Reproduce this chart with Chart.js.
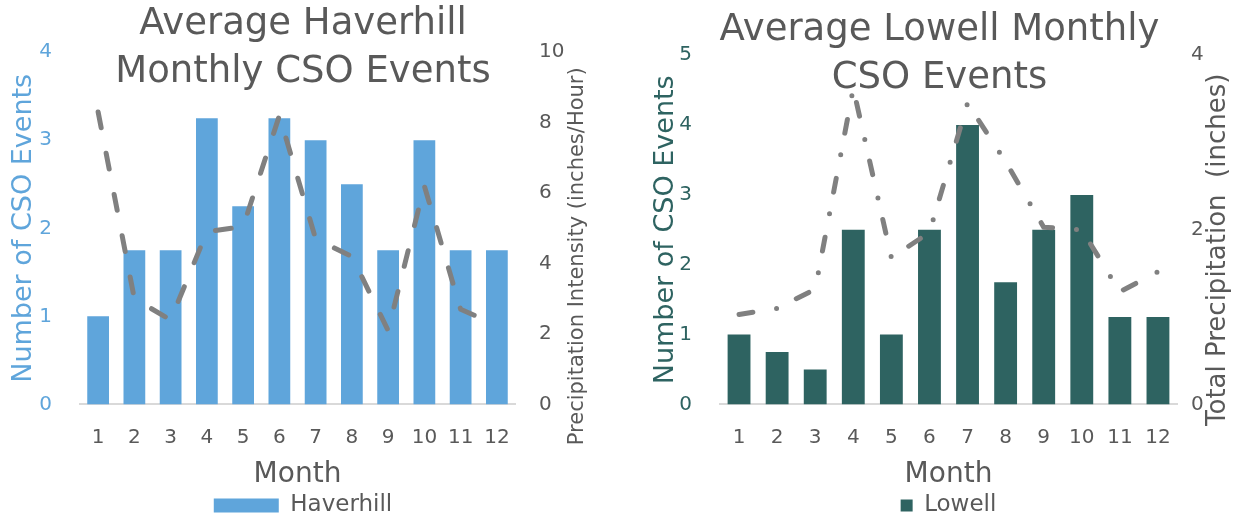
<!DOCTYPE html>
<html>
<head>
<meta charset="utf-8">
<script src="https://cdn.jsdelivr.net/npm/chart.js@4/dist/chart.umd.min.js"></script>
<style>
  html, body { margin: 0; padding: 0; background: #ffffff; }
  body { width: 1239px; height: 519px; position: relative; overflow: hidden; }
  #wrapL { position: absolute; left: 0; top: 0; width: 606px; height: 519px; }
  #wrapR { position: absolute; left: 640px; top: 0; width: 599px; height: 519px; }
</style>
</head>
<body>
<div id="wrapL"><canvas id="left" width="606" height="519"></canvas></div>
<div id="wrapR"><canvas id="right" width="599" height="519"></canvas></div>
<script>
// ---- data ----
const months = ['1','2','3','4','5','6','7','8','9','10','11','12'];
const haverhillEvents = [1, 1.75, 1.75, 3.25, 2.25, 3.25, 3, 2.5, 1.75, 3, 1.75, 1.75];
const haverhillIntensity = [8.3, 3.0, 2.4, 4.9, 5.05, 8.2, 4.7, 4.2, 2.1, 6.2, 2.7, 2.25];
const lowellEvents = [1, 0.75, 0.5, 2.5, 1, 2.5, 4, 1.75, 2.5, 3, 1.25, 1.25];
const lowellPrecip = [1.03, 1.1, 1.32, 3.62, 1.68, 1.97, 3.45, 2.78, 2.03, 2.0, 1.29, 1.52];
const leftTitle = ['Average Haverhill', 'Monthly CSO Events'];
const rightTitle = ['Average Lowell Monthly', 'CSO Events'];

const FONT = "'DejaVu Sans', sans-serif";
const GRAY = '#595959';
const BLUE = '#5fa5db';
const TEAL = '#2e6361';
const LINE = '#808080';
Chart.defaults.font.family = FONT;
Chart.defaults.color = GRAY;

// right-hand axis title, read bottom-to-top like the original
const rightTitlePlugin = {
  id: 'rightTitle',
  afterDraw(chart, args, opts) {
    const s = chart.scales.y1;
    const ctx = chart.ctx;
    ctx.save();
    ctx.font = opts.size + 'px ' + FONT;
    ctx.fillStyle = opts.color;
    ctx.textAlign = 'center';
    ctx.textBaseline = 'middle';
    ctx.translate(s.right - opts.offset, (chart.chartArea.top + chart.chartArea.bottom) / 2 + opts.shift);
    ctx.rotate(-Math.PI / 2);
    ctx.fillText(opts.text, 0, 0);
    ctx.restore();
  }
};

function makeChart(id, cfg) {
  return new Chart(document.getElementById(id), {
    type: 'bar',
    plugins: [rightTitlePlugin],
    data: {
      labels: months,
      datasets: [
        { type: 'bar', label: cfg.barLabel, data: cfg.bars, backgroundColor: cfg.barColor,
          yAxisID: 'y', order: 1, barPercentage: 0.6, categoryPercentage: 1.0 },
        { type: 'line', label: cfg.lineLabel, data: cfg.line, borderColor: LINE, borderWidth: 5,
          borderDash: cfg.dash, borderCapStyle: 'round', borderJoinStyle: 'round',
          pointRadius: 0, tension: 0, fill: false, yAxisID: 'y1', order: 0 }
      ]
    },
    options: {
      responsive: false,
      animation: false,
      layout: { padding: { left: 0, right: 0, top: 0, bottom: -8 } },
      plugins: {
        title: { display: true, text: cfg.title, color: GRAY,
          font: { family: FONT, size: 37, weight: 'normal', lineHeight: 1.3 },
          padding: { top: cfg.titleTop, bottom: cfg.titleBottom } },
        legend: { position: 'bottom', fullSize: cfg.legendFull,
          labels: { filter: (item) => item.datasetIndex === 0, boxWidth: cfg.boxW, boxHeight: cfg.boxH,
            color: GRAY, font: { size: 23 }, padding: 2 } },
        tooltip: { enabled: false },
        rightTitle: { text: cfg.y1Title, size: cfg.y1TitleSize, color: GRAY, offset: cfg.y1TitleOffset, shift: cfg.y1TitleShift }
      },
      scales: {
        x: {
          grid: { display: false },
          border: { display: true, color: '#d9d9d9', width: 2 },
          ticks: { color: GRAY, font: { size: 20 }, padding: 13, maxRotation: 0 },
          title: { display: true, text: 'Month', color: GRAY, font: { size: 28 }, padding: { top: -4, bottom: 0 } }
        },
        y: {
          position: 'left', min: 0, max: cfg.yMax,
          grid: { display: false }, border: { display: false },
          ticks: { stepSize: 1, color: cfg.barColor, font: { size: 20 }, padding: cfg.yPad },
          title: { display: true, text: 'Number of CSO Events', color: cfg.barColor, font: { size: 27 }, padding: { top: cfg.yTitlePad, bottom: 0 } },
          afterFit: (s) => { s.width = cfg.yWidth; }
        },
        y1: {
          position: 'right', min: 0, max: cfg.y1Max,
          grid: { display: false }, border: { display: false },
          ticks: { stepSize: 2, color: GRAY, font: { size: 20 }, padding: cfg.y1Pad },
          afterFit: (s) => { s.width = cfg.y1Width; }
        }
      }
    }
  });
}

makeChart('left', {
  title: leftTitle, titleTop: 0, titleBottom: -44,
  barLabel: 'Haverhill', bars: haverhillEvents, barColor: BLUE,
  lineLabel: 'Precipitation Intensity', line: haverhillIntensity, dash: [16, 26],
  yMax: 4, y1Max: 10, yPad: 20, y1Pad: 16, yWidth: 80, y1Width: 91, yTitlePad: 8,
  y1Title: 'Precipitation Intensity (inches/Hour)', y1TitleSize: 21, y1TitleOffset: 28, y1TitleShift: 28,
  legendFull: true, boxW: 65, boxH: 14
});

makeChart('right', {
  title: rightTitle, titleTop: 6, titleBottom: -47,
  barLabel: 'Lowell', bars: lowellEvents, barColor: TEAL,
  lineLabel: 'Total Precipitation', line: lowellPrecip, dash: [14, 24, 0, 22],
  yMax: 5, y1Max: 4, yPad: 20, y1Pad: 6, yWidth: 80, y1Width: 62, yTitlePad: 10,
  y1Title: 'Total Precipitation  (inches)', y1TitleSize: 26, y1TitleOffset: 21, y1TitleShift: 20,
  legendFull: false, boxW: 12, boxH: 12
});
</script>
</body>
</html>
